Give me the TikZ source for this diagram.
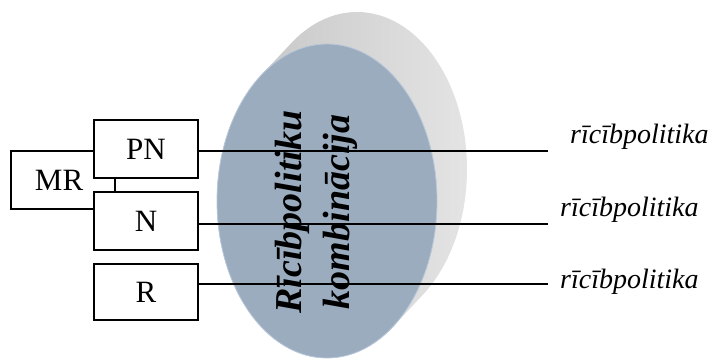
\documentclass[tikz,border=0pt]{standalone}
\usepackage{fontspec}
\setmainfont{Liberation Serif}
\usepackage{tikz}
\usetikzlibrary{positioning}

\definecolor{mixblue}{RGB}{155,172,191}
\definecolor{mixedge}{RGB}{185,200,218}

\tikzset{
	instbox/.style={draw=black, line width=1.4pt, fill=white, minimum width=104pt, minimum height=58pt, inner sep=0pt, font=\fontsize{31}{31}\selectfont},
	polline/.style={line width=1.5pt},
	pollabel/.style={anchor=west, inner sep=0pt, font=\fontsize{28}{28}\selectfont\itshape}
}

\begin{document}
\begin{tikzpicture}[x=1pt, y=-1pt]
	\useasboundingbox (0,0) rectangle (711,362);

	% extruded disc behind
	\begin{scope}
		\clip \foreach \k in {0,1,...,20} { (327+1.5*\k, 201-1.6*\k) ellipse [x radius=110, y radius=157] };
		\shade[left color=black!24, middle color=black!36, right color=black!10] (210,5) rectangle (480,362);
	\end{scope}
	\draw[draw=mixedge, line width=0.8pt, fill=mixblue] (327,201) ellipse [x radius=110, y radius=157];

	% boxes
	\node[instbox, text width=104pt, align=left] (MR) at (63,180) {\hspace{24pt}MR};
	\node[instbox] (PN) at (146,149) {PN};
	\node[instbox] (N) at (146,221) {N};
	\node[instbox, minimum height=56pt] (R) at (146,292) {R};

	\coordinate (pnend) at (548,151);
	\coordinate (nend) at (548,224);
	\coordinate (rend) at (548,284);

	\node[rotate=90, align=center, font=\fontsize{38}{48}\selectfont\bfseries\itshape] (mix) at (316,212) {Rīcībpolitiku\\ kombinācija};

	\draw[polline] (PN.east |- pnend) -- (pnend);
	\draw[polline] (N.east |- nend) -- (nend);
	\draw[polline] (R.east |- rend) -- (rend);

	\node[pollabel] (pnlab) at (570,137) {rīcībpolitika};
	\node[pollabel] (nlab) at (560,210) {rīcībpolitika};
	\node[pollabel] (rlab) at (560,282) {rīcībpolitika};
\end{tikzpicture}
\end{document}
